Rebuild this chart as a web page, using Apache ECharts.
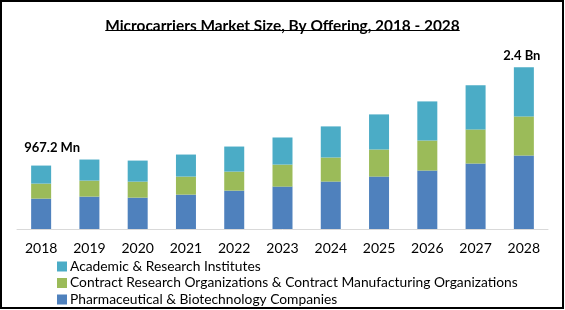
<!DOCTYPE html>
<html>
<head>
<meta charset="utf-8">
<script src="https://cdn.jsdelivr.net/npm/echarts@6/dist/echarts.min.js"></script>
<style>
html,body{margin:0;padding:0;background:#fff;}
#chart{width:565px;height:310px;}
</style>
</head>
<body>
<div id="chart"></div>
<script>
var years = ['2018','2019','2020','2021','2022','2023','2024','2025','2026','2027','2028'];
var pharma = [463, 494, 478, 524, 585, 646, 723, 799, 891, 998, 1120];
var cro = [229, 244, 244, 275, 290, 336, 367, 413, 458, 520, 596];
var academic = [275, 321, 321, 336, 382, 413, 474, 535, 596, 672, 749];
var seriesNames = ['Pharmaceutical & Biotechnology Companies', 'Contract Research Organizations & Contract Manufacturing Organizations', 'Academic & Research Institutes'];
var legendOrder = ['Academic & Research Institutes', 'Contract Research Organizations & Contract Manufacturing Organizations', 'Pharmaceutical & Biotechnology Companies'];
var firstLabel = '967.2 Mn';
var lastLabel = '2.4 Bn';
var titleText = 'Microcarriers Market Size, By Offering, 2018 - 2028';

var FONT = 'Lato';
var TITLE_SIZE = 15.4;
var chart = echarts.init(document.getElementById('chart'), null, {renderer: 'canvas'});

var academicData = academic.map(function (v, i) {
  if (i === 0) {
    return {value: v, label: {show: true, position: 'top', distance: 5, offset: [11, -6], formatter: firstLabel,
      fontFamily: FONT, fontWeight: 'bold', fontSize: 13, color: '#000'}};
  }
  if (i === academic.length - 1) {
    return {value: v, label: {show: true, position: 'top', distance: 5, offset: [-2, 0], formatter: lastLabel,
      fontFamily: FONT, fontWeight: 'bold', fontSize: 13, color: '#000'}};
  }
  return v;
});

var ctx = document.createElement('canvas').getContext('2d');
ctx.font = 'bold ' + TITLE_SIZE + 'px ' + FONT;
var tw = ctx.measureText(titleText).width;

var option = {
  animation: false,
  backgroundColor: '#fff',
  title: {
    text: titleText,
    left: 'center',
    top: 14,
    textStyle: {fontFamily: FONT, fontWeight: 'bold', fontSize: TITLE_SIZE, color: '#000'}
  },
  legend: {
    orient: 'vertical',
    left: 57,
    top: 259,
    height: 80,
    padding: 0,
    itemWidth: 10,
    itemHeight: 10,
    itemGap: 1.5,
    icon: 'rect',
    data: legendOrder,
    textStyle: {fontFamily: FONT, fontSize: 13.8, color: '#000', lineHeight: 15, padding: [0, 0, 0, -2]}
  },
  grid: {left: 17, right: 17, top: 65, bottom: 81, containLabel: false},
  xAxis: {
    type: 'category',
    data: years,
    axisLine: {show: true, lineStyle: {color: '#d9d9d9', width: 1}},
    axisTick: {show: false},
    axisLabel: {fontFamily: FONT, fontSize: 14, color: '#000', margin: 12}
  },
  yAxis: {
    type: 'value',
    min: 0,
    max: 2500,
    show: false,
    splitLine: {show: false}
  },
  series: [
    {name: seriesNames[0], type: 'bar', stack: 'total', barWidth: 20, data: pharma, itemStyle: {color: '#4F81BD'}},
    {name: seriesNames[1], type: 'bar', stack: 'total', barWidth: 20, data: cro, itemStyle: {color: '#9BBB59'}},
    {name: seriesNames[2], type: 'bar', stack: 'total', barWidth: 20, data: academicData, itemStyle: {color: '#4BACC6'}}
  ],
  graphic: [
    {type: 'rect', shape: {x: 1, y: 1, width: 562, height: 307}, style: {fill: 'none', stroke: '#000', lineWidth: 2}, silent: true},
    {type: 'line', shape: {x1: 282.5 - tw / 2, y1: 30.5, x2: 282.5 + tw / 2, y2: 30.5}, style: {stroke: '#000', lineWidth: 1}, silent: true}
  ]
};
chart.setOption(option);
</script>
</body>
</html>
